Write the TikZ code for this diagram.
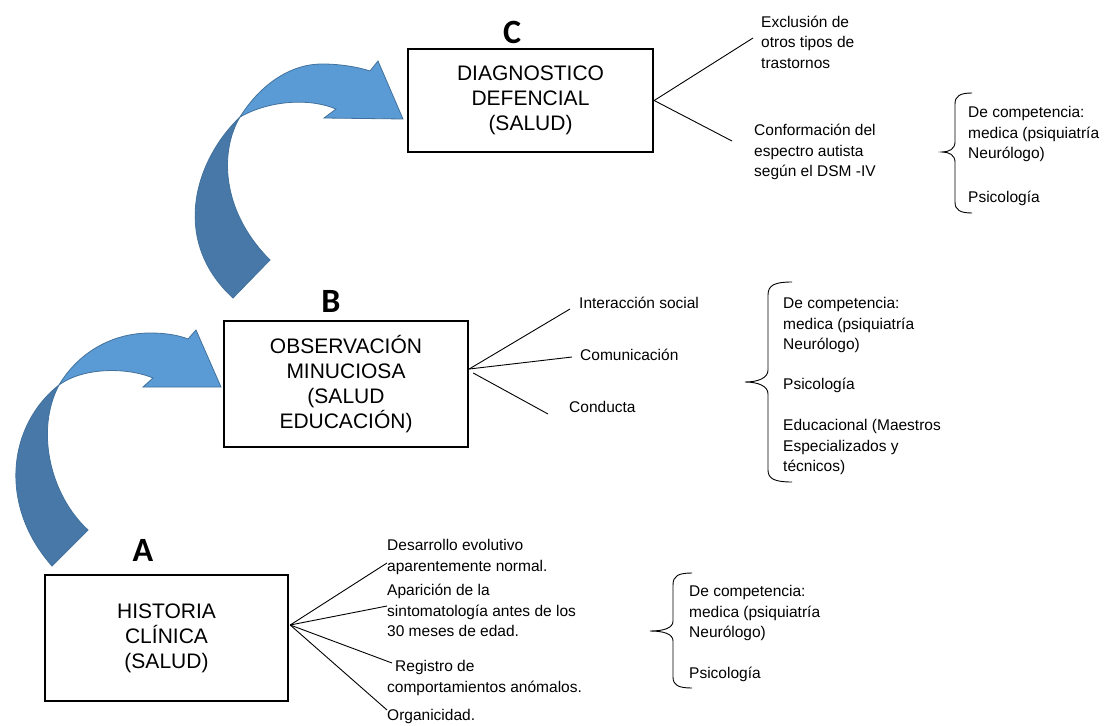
\documentclass[tikz,border=0pt]{standalone}
\usepackage{fontspec}
\setmainfont{Liberation Sans}
\newfontfamily\letterfont{Carlito}
\usetikzlibrary{calc}
\definecolor{arrowdark}{HTML}{4878A8}
\definecolor{arrowlight}{HTML}{5B9BD5}
\definecolor{arrowline}{HTML}{41719C}
\newcommand\mlines[1]{\vtop{\baselineskip=20.5pt\lineskiplimit=-10pt\halign{##\hfil\cr#1\crcr}}}
\begin{document}
\begin{tikzpicture}[x=1pt,y=-1pt,
  mainbox/.style={draw, line width=2.4pt, inner sep=0pt, align=center, font=\fontsize{21}{25}\selectfont},
  lettr/.style={inner sep=0pt, font=\letterfont\bfseries\fontsize{34}{34}\selectfont},
  sidetext/.style={anchor=base west, inner sep=0pt, font=\fontsize{15.5}{20.5}\selectfont},
  conn/.style={line width=0.9pt},
  bracketline/.style={line width=0.9pt},
  arrdark/.style={fill=arrowdark, draw=arrowline, line width=0.8pt},
  arrlight/.style={fill=arrowlight, draw=arrowline, line width=0.8pt}]
\useasboundingbox (0,0) rectangle (1107,725);

% curved arrow A -> B
\path[arrdark] (59,385) .. controls (8,425) and (-2,505) .. (52,566) -- (88,530)
  .. controls (50,495) and (35,430) .. (59,385) -- cycle;
\path[arrlight] (59,385) .. controls (80,350) and (115,333) .. (150,333)
  .. controls (165,333) and (178,335) .. (188,339) -- (196,330) -- (221,387) -- (143,387) -- (153,378)
  .. controls (130,368) and (85,366) .. (59,385) -- cycle;

% curved arrow B -> C
\path[arrdark] (240,117) .. controls (195,160) and (170,240) .. (233,298) -- (270,260)
  .. controls (220,210) and (220,150) .. (240,117) -- cycle;
\path[arrlight] (240,117) .. controls (260,85) and (290,64) .. (322,64)
  .. controls (340,64) and (358,67) .. (370,71) -- (378,61) -- (403,119) -- (324,118) -- (336,109)
  .. controls (310,98) and (270,100) .. (240,117) -- cycle;

% boxes
\node[mainbox, minimum width=245pt, minimum height=103pt] (boxC) at (530.5,100.5) {DIAGNOSTICO\\DEFENCIAL\\(SALUD)};
\node[mainbox, minimum width=244pt, minimum height=126pt] (boxB) at (346,384) {OBSERVACIÓN\\MINUCIOSA\\(SALUD\\EDUCACIÓN)};
\node[mainbox, minimum width=243pt, minimum height=126pt] (boxA) at (166.5,638) {HISTORIA\\CLÍNICA\\(SALUD)};

% letters
\node[lettr] (labC) at (512,32) {C};
\node[lettr] (labB) at (331,301) {B};
\node[lettr] (labA) at (143,550) {A};

% C side
\coordinate (oC) at (boxC.east);
\coordinate (eC1) at (753,38);
\coordinate (eC2) at (732,141);
\draw[conn] (oC) -- (eC1);
\draw[conn] (oC) -- (eC2);
\node[sidetext] (tC1) at (761,27.5) {\mlines{Exclusión de\cr otros tipos de\cr trastornos}};
\node[sidetext] (tC2) at (754,135.5) {\mlines{Conformación del\cr espectro autista\cr según el DSM -IV}};
\draw[bracketline] (972,93) .. controls (960,93) and (955,96) .. (955,104) -- (955,142)
  .. controls (955,149) and (949,152) .. (942,152) .. controls (949,152) and (955,155) .. (955,162)
  -- (955,202) .. controls (955,210) and (960,213) .. (972,213);
\node[sidetext] (bC1) at (968,117.5) {\mlines{De competencia:\cr medica (psiquiatría\cr Neurólogo)}};
\node[sidetext] (bC2) at (968,202.5) {Psicología};

% B side
\coordinate (oB) at ($(boxB.east)+(0,-15)$);
\coordinate (eB1) at (570,309);
\coordinate (eB2) at (572,357);
\coordinate (eB3) at (548,414);
\draw[conn] (oB) -- (eB1);
\draw[conn] (oB) -- (eB2);
\draw[conn] ($(oB)+(4,4)$) -- (eB3);
\node[sidetext] (tB1) at (579,308.5) {Interacción social};
\node[sidetext] (tB2) at (580,360.5) {Comunicación};
\node[sidetext] (tB3) at (569,412.5) {Conducta};
\draw[bracketline] (792,282) .. controls (775,282) and (768,285) .. (768,295) -- (768,370)
  .. controls (768,378) and (758,382) .. (745,382) .. controls (758,382) and (768,386) .. (768,394)
  -- (768,470) .. controls (768,479) and (775,482) .. (792,482);
\node[sidetext] (bB1) at (783,308.5) {\mlines{De competencia:\cr medica (psiquiatría\cr Neurólogo)}};
\node[sidetext] (bB2) at (783,389.5) {Psicología};
\node[sidetext] (bB3) at (783,430.5) {\mlines{Educacional (Maestros\cr Especializados y\cr técnicos)}};

% A side
\coordinate (oA) at ($(boxA.east)+(1,-13)$);
\coordinate (eA1) at (387,563);
\coordinate (eA2) at (387,606);
\coordinate (eA3) at (392,663);
\coordinate (eA4) at (387,710);
\draw[conn] (oA) -- (eA1);
\draw[conn] (oA) -- (eA2);
\draw[conn] (oA) -- (eA3);
\draw[conn] (oA) -- (eA4);
\node[sidetext] (tA1) at (387,550.5) {\mlines{Desarrollo evolutivo\cr aparentemente normal.}};
\node[sidetext] (tA2) at (387,595.5) {\mlines{Aparición de la\cr sintomatología antes de los\cr 30 meses de edad.}};
\node[sidetext] (tA3) at (387,671.5) {\mlines{\hspace*{8pt}Registro de\cr comportamientos anómalos.}};
\node[sidetext] (tA4) at (387,720.5) {Organicidad.};
\draw[bracketline] (692,573) .. controls (678,573) and (673,576) .. (673,585) -- (673,621)
  .. controls (673,628) and (664,631) .. (650,631) .. controls (664,631) and (673,634) .. (673,641)
  -- (673,677) .. controls (673,685) and (678,688) .. (692,688);
\node[sidetext] (bA1) at (689,596.5) {\mlines{De competencia:\cr medica (psiquiatría\cr Neurólogo)}};
\node[sidetext] (bA2) at (689,678.5) {Psicología};
\end{tikzpicture}
\end{document}
